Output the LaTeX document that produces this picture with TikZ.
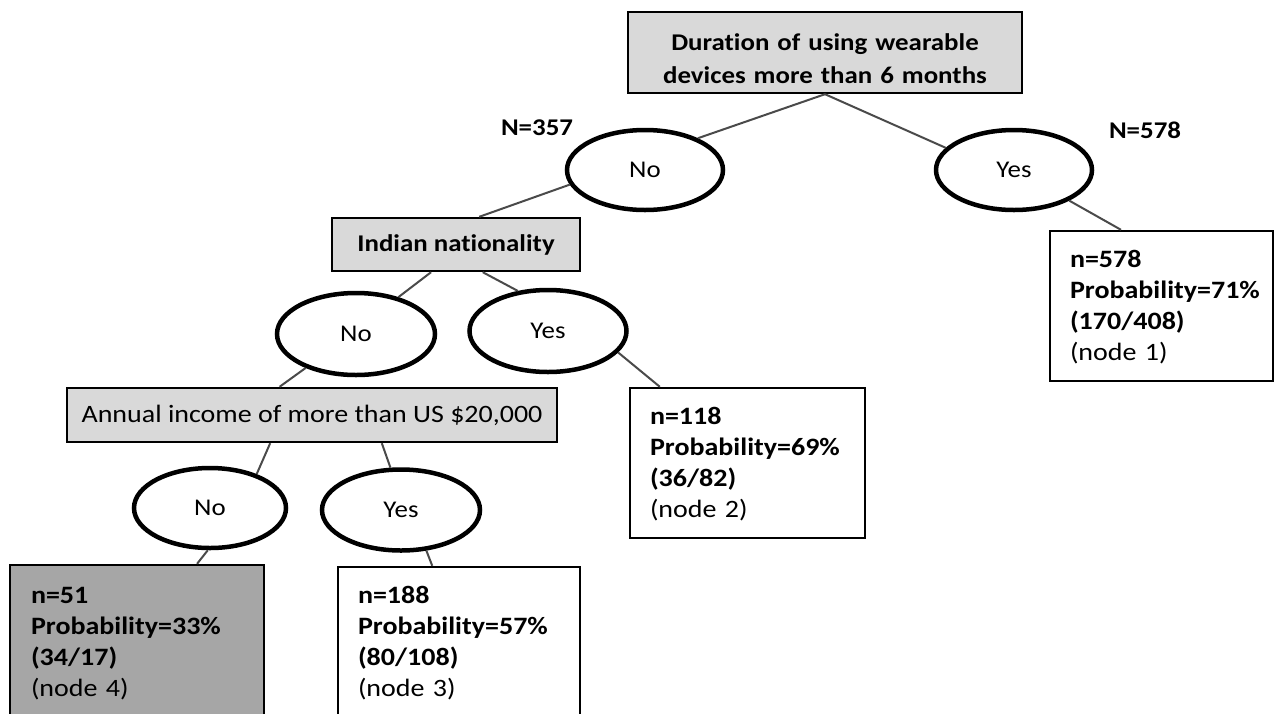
\documentclass[tikz,border=0pt]{standalone}
\usepackage{fontspec}
\setmainfont{Carlito}[FakeStretch=1.12, Ligatures=NoCommon]
\usetikzlibrary{shapes.geometric}
\definecolor{boxgray}{HTML}{D9D9D9}
\definecolor{leafgray}{HTML}{A6A6A6}
\definecolor{linegray}{HTML}{4A4A4A}
\tikzset{
  txt/.style={font=\fontsize{24}{31}\selectfont},
  splitbox/.style={txt, draw=black, line width=2.4pt, fill=boxgray, inner sep=0pt, align=center},
  oval/.style={txt, ellipse, draw=black, line width=4.5pt, inner sep=0pt},
  leaf/.style={font=\fontsize{25}{31}\selectfont, draw=black, line width=2.4pt, align=left, inner ysep=0pt},
  conn/.style={draw=linegray, line width=2pt},
  countlabel/.style={font=\fontsize{24}{31}\selectfont\bfseries, inner sep=0pt}
}
\begin{document}
\begin{tikzpicture}[x=1pt,y=-1pt]
\useasboundingbox (0,0) rectangle (1277,713);
\clip (0,0) rectangle (1277,713);

% root
\node[splitbox, text width=394pt, text height=38pt, text depth=43pt,
      font=\fontsize{24}{33}\selectfont] (root) at (825,52.5)
  {\bfseries Duration of using wearable\\ \bfseries devices more than 6 months};

% level 1
\node[oval, minimum width=156pt, minimum height=80pt] (no1) at (645,170) {No};
\node[oval, minimum width=156pt, minimum height=80pt] (yes1) at (1014,170) {Yes};
\node[countlabel] (n357) at (537,128) {N=357};
\node[countlabel] (n578) at (1145,130) {N=578};

\node[leaf, inner xsep=20pt, text width=183pt, text height=36pt, text depth=114pt] (leaf1) at (1161.5,306)
  {\textbf{n=578}\\ \textbf{Probability=71\%}\\ \textbf{(170/408)}\\ (node 1)};

% level 2
\node[splitbox, minimum width=248pt, minimum height=53pt] (indian) at (456,244.5)
  {\bfseries Indian nationality};
\node[oval, minimum width=158pt, minimum height=82pt] (no2) at (356,334) {No};
\node[oval, minimum width=157pt, minimum height=82pt] (yes2) at (548,331) {Yes};

\node[leaf, inner xsep=20pt, text width=195pt, text height=36pt, text depth=114pt] (leaf2) at (747.5,463)
  {\textbf{n=118}\\ \textbf{Probability=69\%}\\ \textbf{(36/82)}\\ (node 2)};

% level 3
\node[splitbox, minimum width=490pt, minimum height=54pt, font=\fontsize{25}{31}\selectfont] (income) at (312,415)
  {Annual income of more than US \$20,000};
\node[oval, minimum width=152pt, minimum height=80pt] (no3) at (210,508) {No};
\node[oval, minimum width=158pt, minimum height=81pt] (yes3) at (401,510) {Yes};

\node[leaf, fill=leafgray, inner xsep=21pt, text width=212pt, text height=38pt, text depth=119pt] (leaf4) at (137,643.5)
  {\textbf{n=51}\\ \textbf{Probability=33\%}\\ \textbf{(34/17)}\\ (node 4)};
\node[leaf, inner xsep=20pt, text width=202pt, text height=36pt, text depth=117pt] (leaf3) at (459,643.5)
  {\textbf{n=188}\\ \textbf{Probability=57\%}\\ \textbf{(80/108)}\\ (node 3)};

% connectors
\draw[conn] (root.south) -- (no1.31);
\draw[conn] (root.south) -- (yes1.162);
\draw[conn] (yes1.-29.5) -- (leaf1.118);
\draw[conn] (no1.191) -- (indian.50);
\draw[conn] (indian.228) -- (no2.41);
\draw[conn] (indian.314.5) -- (yes2.127.6);
\draw[conn] (yes2.-17.7) -- (leaf2.139.4);
\draw[conn] (no2.214.8) -- (income.139.8);
\draw[conn] (income.214) -- (no3.36.7);
\draw[conn] (income.338) -- (yes3.104);
\draw[conn] (no3.267) -- (leaf4.53.1);
\draw[conn] (yes3.302) -- (leaf3.109.4);
\end{tikzpicture}
\end{document}
